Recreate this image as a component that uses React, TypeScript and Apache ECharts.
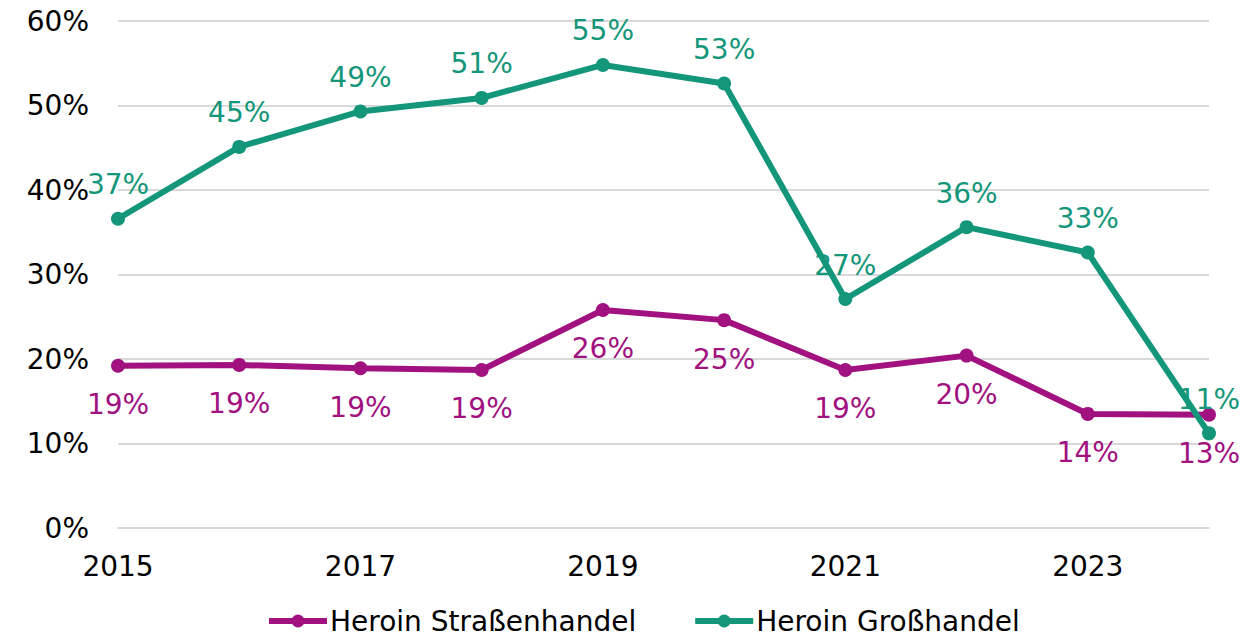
import React, { useEffect, useRef } from "react";
import * as echarts from "echarts";

const years = ["2015", "2016", "2017", "2018", "2019", "2020", "2021", "2022", "2023", "2024"];
const strassenhandel = [19.2, 19.3, 18.9, 18.7, 25.8, 24.6, 18.7, 20.4, 13.5, 13.4];
const grosshandel = [36.6, 45.1, 49.3, 50.9, 54.8, 52.6, 27.1, 35.6, 32.6, 11.2];
const seriesNames = ["Heroin Straßenhandel", "Heroin Großhandel"];
const colors = ["#A1117F", "#14967A"];

const FONT = "DejaVu Sans, Verdana, sans-serif";

export default function App() {
  const ref = useRef<HTMLDivElement>(null);
  useEffect(() => {
    if (!ref.current) return;
    const chart = echarts.init(ref.current, null, { renderer: "svg" });
    const mk = (name: string, data: number[], color: string, pos: "top" | "bottom", dist: number) => ({
      name,
      type: "line",
      data,
      color,
      symbol: "circle",
      symbolSize: 14,
      lineStyle: { width: 6, color },
      itemStyle: { color },
      label: {
        show: true,
        position: pos,
        distance: dist,
        color,
        fontSize: 28,
        fontFamily: FONT,
        formatter: (p: any) => Math.round(p.value) + "%",
      },
    });
    chart.setOption({
      animation: false,
      textStyle: { fontFamily: FONT },
      grid: { left: 118, right: 33, top: 21, bottom: 109, containLabel: false },
      legend: {
        data: seriesNames,
        top: 602,
        left: 261,
        itemWidth: 58,
        itemHeight: 16,
        itemGap: 56,
        lineStyle: { width: 6 },
        textStyle: { fontSize: 28, color: "#000", fontFamily: FONT, padding: [0, 0, 0, -2] },
      },
      xAxis: {
        type: "category",
        data: years,
        boundaryGap: false,
        axisLine: { show: true, lineStyle: { color: "#d9d9d9", width: 2 } },
        axisTick: { show: false },
        axisLabel: { interval: 1, fontSize: 28, color: "#000", margin: 24, fontFamily: FONT },
      },
      yAxis: {
        type: "value",
        min: 0,
        max: 60,
        interval: 10,
        axisLine: { show: false },
        axisTick: { show: false },
        splitLine: { lineStyle: { color: "#d9d9d9", width: 2 } },
        axisLabel: { formatter: "{value}%", fontSize: 28, color: "#000", margin: 29, fontFamily: FONT },
      },
      series: [
        mk(seriesNames[0], strassenhandel, colors[0], "bottom", 18),
        mk(seriesNames[1], grosshandel, colors[1], "top", 13),
      ],
    });
    return () => chart.dispose();
  }, []);
  return (
    <div
      ref={ref}
      style={{ position: "fixed", left: 0, top: 0, width: 1242, height: 637, background: "#fff" }}
    />
  );
}
